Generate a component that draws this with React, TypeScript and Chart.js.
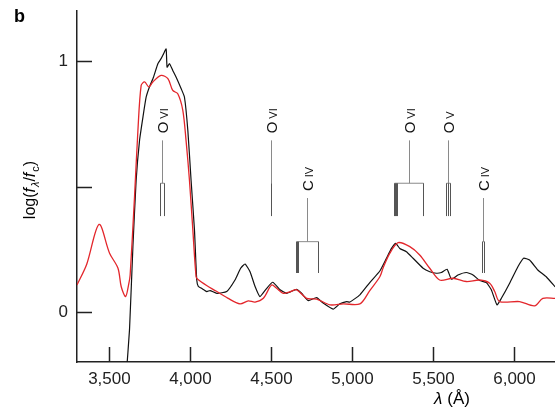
import { useEffect, useRef } from "react"
import { Chart, registerables } from "chart.js"

Chart.register(...registerables)

// red: model spectrum
const RED_WL = [3300, 3360, 3436, 3501, 3553, 3573, 3600, 3620, 3628, 3655, 3676, 3696, 3717, 3744, 3768, 3819, 3861, 3891, 3922, 3953, 3973, 3994, 4015, 4035, 4045, 4100, 4158, 4230, 4306, 4357, 4399, 4450, 4501, 4532, 4573, 4614, 4655, 4717, 4779, 4861, 4943, 5046, 5107, 5169, 5189, 5230, 5282, 5354, 5415, 5477, 5538, 5620, 5703, 5785, 5847, 5878, 5908, 6031, 6124, 6175, 6250]
const RED_FLUX = [0.107, 0.19, 0.349, 0.234, 0.174, 0.1, 0.061, 0.114, 0.147, 0.459, 0.724, 0.903, 0.917, 0.897, 0.917, 0.943, 0.93, 0.883, 0.87, 0.804, 0.684, 0.525, 0.326, 0.14, 0.13, 0.105, 0.083, 0.055, 0.032, 0.044, 0.039, 0.054, 0.107, 0.094, 0.074, 0.08, 0.088, 0.054, 0.051, 0.028, 0.032, 0.032, 0.085, 0.14, 0.175, 0.233, 0.276, 0.26, 0.227, 0.174, 0.127, 0.134, 0.121, 0.127, 0.114, 0.081, 0.041, 0.041, 0.024, 0.054, 0.054]

// black: observed spectrum
const BLACK_WL = [3604, 3624, 3645, 3665, 3686, 3707, 3727, 3747, 3772, 3799, 3819, 3834, 3850, 3856, 3871, 3891, 3912, 3943, 3963, 3984, 4004, 4025, 4039, 4049, 4066, 4101, 4121, 4163, 4224, 4275, 4310, 4337, 4368, 4399, 4429, 4471, 4508, 4553, 4594, 4655, 4686, 4727, 4779, 4819, 4881, 4922, 4964, 4984, 5046, 5107, 5169, 5210, 5241, 5267, 5292, 5333, 5374, 5436, 5477, 5518, 5549, 5584, 5611, 5651, 5703, 5744, 5785, 5826, 5857, 5892, 5919, 5970, 6021, 6056, 6093, 6144, 6196, 6250]
const BLACK_FLUX = [-0.25, -0.072, 0.26, 0.525, 0.684, 0.777, 0.857, 0.897, 0.936, 0.99, 1.01, 1.029, 1.049, 0.976, 0.99, 0.963, 0.936, 0.89, 0.857, 0.724, 0.525, 0.326, 0.127, 0.101, 0.095, 0.081, 0.085, 0.074, 0.081, 0.127, 0.174, 0.191, 0.16, 0.101, 0.061, 0.094, 0.118, 0.088, 0.074, 0.09, 0.074, 0.045, 0.057, 0.035, 0.011, 0.032, 0.041, 0.039, 0.068, 0.117, 0.163, 0.214, 0.253, 0.273, 0.253, 0.24, 0.214, 0.174, 0.16, 0.154, 0.157, 0.17, 0.13, 0.147, 0.157, 0.147, 0.125, 0.117, 0.088, 0.028, 0.054, 0.114, 0.18, 0.214, 0.207, 0.167, 0.14, 0.1]

const X_TICKS = [3500, 4000, 4500, 5000, 5500, 6000]
const Y_TICKS = [0, 0.5, 1]
const Y_TICK_LABELS = ["0", "", "1"]

// line identifications
const ION_NAMES = ["O", "O", "C", "O", "O", "C"]
const ION_STAGES = ["VI", "VI", "IV", "VI", "V", "IV"]
const ION_LINES = [
  [3813, 3836],
  [4499],
  [4651, 4658, 4665, 4789],
  [5257, 5262, 5268, 5274, 5436],
  [5580, 5592, 5604],
  [5801, 5812],
]
const STEM_TOP = [0.684, 0.684, 0.454, 0.684, 0.684, 0.454]
const BRACKET_Y = [0.513, 0.513, 0.28, 0.513, 0.513, 0.28]
const LINES_BOTTOM = [0.382, 0.382, 0.155, 0.382, 0.382, 0.155]

const FONT = "'Liberation Sans', Arial, Helvetica, sans-serif"

const decorations = {
  id: "decorations",
  afterDraw(chart: Chart) {
    const ctx = chart.ctx
    const xs = chart.scales.x
    const ys = chart.scales.y
    const area = chart.chartArea
    ctx.save()

    // inward ticks
    ctx.strokeStyle = "#222"
    ctx.lineWidth = 1.5
    ctx.beginPath()
    X_TICKS.forEach((v) => {
      const px = Math.round(xs.getPixelForValue(v)) + 0.5
      ctx.moveTo(px, area.bottom)
      ctx.lineTo(px, area.bottom - 15)
    })
    Y_TICKS.forEach((v) => {
      const py = Math.round(ys.getPixelForValue(v)) + 0.5
      ctx.moveTo(area.left, py)
      ctx.lineTo(area.left + 15, py)
    })
    ctx.stroke()

    // line identification markers
    ION_LINES.forEach((lines, i) => {
      const lo = Math.min(...lines)
      const hi = Math.max(...lines)
      const cx = Math.round(xs.getPixelForValue((lo + hi) / 2)) + 0.5
      const top = ys.getPixelForValue(STEM_TOP[i])
      const br = ys.getPixelForValue(BRACKET_Y[i])
      const bot = ys.getPixelForValue(LINES_BOTTOM[i])

      ctx.strokeStyle = "#8a8a8a"
      ctx.lineWidth = 1
      ctx.beginPath()
      ctx.moveTo(cx, top)
      ctx.lineTo(cx, br)
      if (lines.length > 1) {
        ctx.moveTo(Math.round(xs.getPixelForValue(lo)) + 0.5, br)
        ctx.lineTo(Math.round(xs.getPixelForValue(hi)) + 0.5, br)
      }
      ctx.stroke()

      ctx.strokeStyle = "#555"
      ctx.beginPath()
      lines.forEach((w) => {
        const px = Math.round(xs.getPixelForValue(w)) + 0.5
        ctx.moveTo(px, br)
        ctx.lineTo(px, bot)
      })
      ctx.stroke()

      // rotated label: element + ionisation stage
      ctx.save()
      ctx.translate(cx + 5.5, top - 7)
      ctx.rotate(-Math.PI / 2)
      ctx.fillStyle = "#111"
      ctx.textAlign = "left"
      ctx.textBaseline = "alphabetic"
      ctx.font = `15px ${FONT}`
      ctx.fillText(ION_NAMES[i], 0, 0)
      const w = ctx.measureText(ION_NAMES[i]).width
      ctx.font = `11px ${FONT}`
      ctx.fillText(ION_STAGES[i], w + 3, -0.5)
      ctx.restore()
    })

    // panel letter
    ctx.fillStyle = "#000"
    ctx.font = `bold 18px ${FONT}`
    ctx.textAlign = "left"
    ctx.textBaseline = "alphabetic"
    ctx.fillText("b", 14, 22)

    // x title
    const lam = "λ"
    const rest = " (Å)"
    ctx.font = `italic 17px ${FONT}`
    const lw = ctx.measureText(lam).width
    ctx.font = `17px ${FONT}`
    const rw = ctx.measureText(rest).width
    const startX = 452 - (lw + rw) / 2
    ctx.font = `italic 17px ${FONT}`
    ctx.fillText(lam, startX, 404)
    ctx.font = `17px ${FONT}`
    ctx.fillText(rest, startX + lw, 404)

    // y title
    const parts: [string, string, number][] = [
      ["log(", "normal", 0],
      ["f", "italic", 0],
      ["λ", "italic-sub", 0],
      ["/", "normal", 0],
      ["f", "italic", 0],
      ["c", "normal-sub", 0],
      [")", "normal", 0],
    ]
    const fontFor = (k: string) =>
      k === "italic" ? `italic 16px ${FONT}` :
      k === "italic-sub" ? `italic 11px ${FONT}` :
      k === "normal-sub" ? `11px ${FONT}` : `16px ${FONT}`
    let total = 0
    parts.forEach((p) => {
      ctx.font = fontFor(p[1])
      p[2] = ctx.measureText(p[0]).width + (p[1] === "italic" ? 1 : 0)
      total += p[2]
    })
    ctx.save()
    ctx.translate(35, 190)
    ctx.rotate(-Math.PI / 2)
    let tx = -total / 2
    parts.forEach((p) => {
      ctx.font = fontFor(p[1])
      const dy = p[1].endsWith("sub") ? 4 : 0
      ctx.fillText(p[0], tx, dy)
      tx += p[2]
    })
    ctx.restore()

    ctx.restore()
  },
}

export default function App() {
  const canvasRef = useRef<HTMLCanvasElement>(null)
  const chartRef = useRef<Chart | null>(null)

  useEffect(() => {
    document.body.style.margin = "0"
    if (!canvasRef.current) return
    if (chartRef.current) chartRef.current.destroy()

    chartRef.current = new Chart(canvasRef.current, {
      type: "line",
      data: {
        datasets: [
          {
            label: "model",
            data: RED_WL.map((x, i) => ({ x, y: RED_FLUX[i] })),
            borderColor: "#e3262b",
            borderWidth: 1.3,
            pointRadius: 0,
            tension: 0.3,
            clip: 0,
          },
          {
            label: "observed",
            data: BLACK_WL.map((x, i) => ({ x, y: BLACK_FLUX[i] })),
            borderColor: "#111",
            borderWidth: 1.2,
            pointRadius: 0,
            tension: 0.15,
            clip: 0,
          },
        ],
      },
      options: {
        animation: false,
        responsive: true,
        maintainAspectRatio: false,
        layout: { padding: { top: 11, right: 0, left: 0, bottom: 0 } },
        plugins: { legend: { display: false }, tooltip: { enabled: false } },
        scales: {
          x: {
            type: "linear",
            min: 3300,
            max: 6250,
            grid: { display: false, drawTicks: false },
            border: { display: true, color: "#222", width: 1.5 },
            afterBuildTicks: (s: any) => {
              s.ticks = X_TICKS.map((value) => ({ value }))
            },
            afterFit: (s: any) => {
              s.height = 51
              s.paddingLeft = 0
              s.paddingRight = 0
            },
            ticks: {
              color: "#222",
              padding: 7,
              font: { family: FONT, size: 17 },
              maxRotation: 0,
              callback: (v: any) => Number(v).toLocaleString("en-US"),
            },
          },
          y: {
            type: "linear",
            min: -0.2,
            max: 1.2,
            grid: { display: false, drawTicks: false },
            border: { display: true, color: "#222", width: 1.5 },
            afterBuildTicks: (s: any) => {
              s.ticks = Y_TICKS.map((value) => ({ value }))
            },
            afterFit: (s: any) => {
              s.width = 77
              s.paddingTop = 0
              s.paddingBottom = 0
            },
            ticks: {
              color: "#222",
              padding: 9,
              font: { family: FONT, size: 17 },
              callback: (_v: any, i: number) => Y_TICK_LABELS[i],
            },
          },
        },
      },
      plugins: [decorations],
    })

    return () => {
      if (chartRef.current) {
        chartRef.current.destroy()
        chartRef.current = null
      }
    }
  }, [])

  return (
    <div style={{ position: "fixed", left: 0, top: 0, width: 555, height: 413, background: "#fff" }}>
      <canvas ref={canvasRef} />
    </div>
  )
}
